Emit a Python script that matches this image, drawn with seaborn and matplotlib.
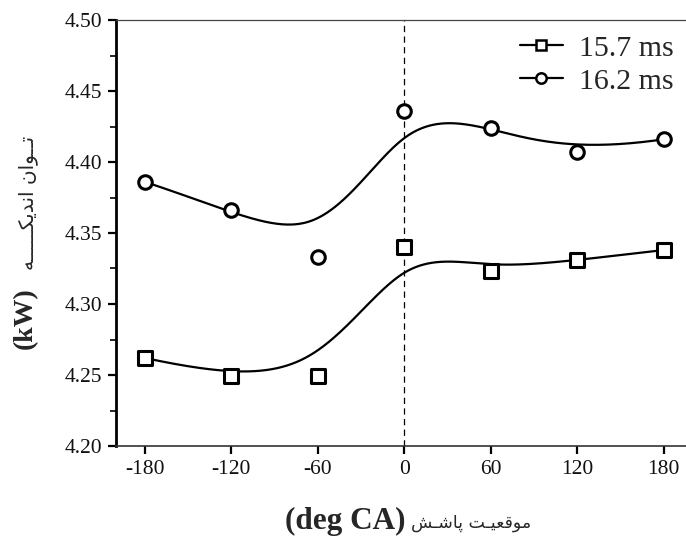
import numpy as np
import pandas as pd
import seaborn as sns
import matplotlib
matplotlib.use("Agg")
import matplotlib.pyplot as plt
from matplotlib.lines import Line2D
from matplotlib.ticker import MultipleLocator, FixedLocator

# ---------------- data ----------------
angles = [-180, -120, -60, 0, 60, 120, 180]
power_15_7 = [4.262, 4.249, 4.249, 4.340, 4.323, 4.331, 4.338]
power_16_2 = [4.386, 4.366, 4.333, 4.436, 4.424, 4.407, 4.416]
series_labels = ["15.7 ms", "16.2 ms"]
series_markers = ["s", "o"]
x_ticks = [-180, -120, -60, 0, 60, 120, 180]
y_ticks = [4.20, 4.25, 4.30, 4.35, 4.40, 4.45, 4.50]
xlabel_latin = "(deg CA)"
xlabel_fa = "موقعیـت پاشـش"
ylabel_latin = "(kW)"
ylabel_fa = "تــوان اندیکـــــه"

# ---------------- Persian shaping (presentation forms) ----------------
FORMS = {  # iso, fin, ini, med
    "ا": ("\uFE8D", "\uFE8E", None, None),
    "و": ("\uFEED", "\uFEEE", None, None),
    "د": ("\uFEA9", "\uFEAA", None, None),
    "ت": ("\uFE95", "\uFE96", "\uFE97", "\uFE98"),
    "ن": ("\uFEE5", "\uFEE6", "\uFEE7", "\uFEE8"),
    "ی": ("\uFBFC", "\uFBFD", "\uFBFE", "\uFBFF"),
    "ک": ("\uFB8E", "\uFB8F", "\uFB90", "\uFB91"),
    "ه": ("\uFEE9", "\uFEEA", "\uFEEB", "\uFEEC"),
    "م": ("\uFEE1", "\uFEE2", "\uFEE3", "\uFEE4"),
    "ق": ("\uFED5", "\uFED6", "\uFED7", "\uFED8"),
    "ع": ("\uFEC9", "\uFECA", "\uFECB", "\uFECC"),
    "پ": ("\uFB56", "\uFB57", "\uFB58", "\uFB59"),
    "ش": ("\uFEB5", "\uFEB6", "\uFEB7", "\uFEB8"),
}
TATWEEL = "\u0640"


def _dual(c):
    return c == TATWEEL or (c in FORMS and FORMS[c][2] is not None)


def _joinable(c):
    return c == TATWEEL or c in FORMS


def shape_fa(s):
    out = []
    for i, c in enumerate(s):
        if c not in FORMS:
            out.append(c)
            continue
        prev = s[i - 1] if i > 0 else " "
        nxt = s[i + 1] if i + 1 < len(s) else " "
        jp = _dual(prev)
        jn = _dual(c) and _joinable(nxt)
        iso, fin, ini, med = FORMS[c]
        if jp and jn:
            out.append(med)
        elif jp:
            out.append(fin)
        elif jn:
            out.append(ini)
        else:
            out.append(iso)
    return "".join(out)[::-1]


# ---------------- B-spline curve through control points ----------------
def bspline_basis(m, k, t):
    knots = np.concatenate([np.zeros(k), np.arange(m - k + 1), np.full(k, m - k)]).astype(float)
    nk = len(knots)
    B = np.zeros((len(t), nk - 1))
    for i in range(nk - 1):
        B[:, i] = (knots[i] <= t) & (t < knots[i + 1])
    last = max(i for i in range(nk - 1) if knots[i] < knots[i + 1])
    B[t >= knots[-1], :] = 0
    B[t >= knots[-1], last] = 1
    for d in range(1, k + 1):
        Bn = np.zeros((len(t), nk - 1 - d))
        for i in range(nk - 1 - d):
            den1 = knots[i + d] - knots[i]
            den2 = knots[i + d + 1] - knots[i + 1]
            a = (t - knots[i]) / den1 * B[:, i] if den1 > 0 else 0
            b = (knots[i + d + 1] - t) / den2 * B[:, i + 1] if den2 > 0 else 0
            Bn[:, i] = a + b
        B = Bn
    return B


t = np.linspace(0, len(angles) - 3, 400)
Bm = bspline_basis(len(angles), 3, t)

frames = []
curves = []
for lab, vals in zip(series_labels, [power_15_7, power_16_2]):
    frames.append(pd.DataFrame({"angle": angles, "power": vals, "series": lab}))
    curves.append(pd.DataFrame({"angle": Bm @ np.array(angles, float),
                                "power": Bm @ np.array(vals, float),
                                "series": lab}))
df = pd.concat(frames, ignore_index=True)

# ---------------- figure ----------------
sns.set_style("ticks")
plt.rcParams["font.family"] = ["Liberation Serif", "DejaVu Sans"]

W, H = 686, 542
fig = plt.figure(figsize=(W / 100, H / 100), dpi=100)
ax_left, ax_right, ax_top, ax_bottom = 116, 692.6, 20, 446
ax = fig.add_axes([ax_left / W, 1 - ax_bottom / H, (ax_right - ax_left) / W, (ax_bottom - ax_top) / H])

ax.axvline(0, color="black", lw=0.9, ls=(0, (5, 3.5)), zorder=1)

for c in curves:
    sns.lineplot(data=c, x="angle", y="power", sort=False, estimator=None,
                 color="black", lw=1.6, ax=ax, legend=False, zorder=2)

for lab, mk in zip(series_labels, series_markers):
    sub = df[df["series"] == lab]
    sns.scatterplot(data=sub, x="angle", y="power", marker=mk, s=95,
                    facecolor="white", edgecolor="black", linewidth=2.2,
                    ax=ax, legend=False, zorder=3)

ax.set_xlim(-200, 200)
ax.set_ylim(4.20, 4.50)
ax.xaxis.set_major_locator(FixedLocator(x_ticks))
ax.yaxis.set_major_locator(FixedLocator(y_ticks))
ax.yaxis.set_minor_locator(MultipleLocator(0.025))
ax.set_xticklabels([f"{v:d}" for v in x_ticks])
ax.set_yticklabels([f"{v:.2f}" for v in y_ticks])
ax.tick_params(axis="both", which="major", direction="out", length=6, width=1.6,
               labelsize=15.5, color="black", labelcolor="#111111", pad=4)
ax.tick_params(axis="y", which="minor", direction="out", length=4, width=1.4)
ax.set_xlabel("")
ax.set_ylabel("")

ax.spines["left"].set_linewidth(2.0)
ax.spines["left"].set_color("black")
ax.spines["bottom"].set_linewidth(1.2)
ax.spines["bottom"].set_color("#333333")
ax.spines["top"].set_linewidth(0.9)
ax.spines["top"].set_color("#444444")
ax.spines["right"].set_visible(False)

handles = [Line2D([0], [0], color="black", lw=1.6, marker=mk, markersize=7.5,
                  markerfacecolor="white", markeredgecolor="black", markeredgewidth=1.8)
           for mk in series_markers]
fig.legend(handles=handles, labels=series_labels, loc="upper right",
           bbox_to_anchor=(1.0, 1 - 23 / H), frameon=False, fontsize=21.5,
           handlelength=1.45, handletextpad=0.55, labelspacing=0.2, borderaxespad=0)

# axis labels: Latin part bold serif, Persian part shaped
fig.text(405 / W, 1 - 521 / H, xlabel_latin, ha="right", va="center",
         fontsize=22.5, fontweight="bold", family=["Liberation Serif"])
fig.text(411 / W, 1 - 523 / H, shape_fa(xlabel_fa), ha="left", va="center",
         fontsize=12.5, family=["DejaVu Sans"])
fig.text(25 / W, 1 - 318 / H, ylabel_latin, ha="center", va="center", rotation=90,
         fontsize=20, fontweight="bold", family=["Liberation Serif"])
fig.text(28 / W, 1 - 203 / H, shape_fa(ylabel_fa), ha="center", va="center", rotation=90,
         fontsize=14.5, family=["DejaVu Sans"])

fig.savefig("out.png", dpi=100)
